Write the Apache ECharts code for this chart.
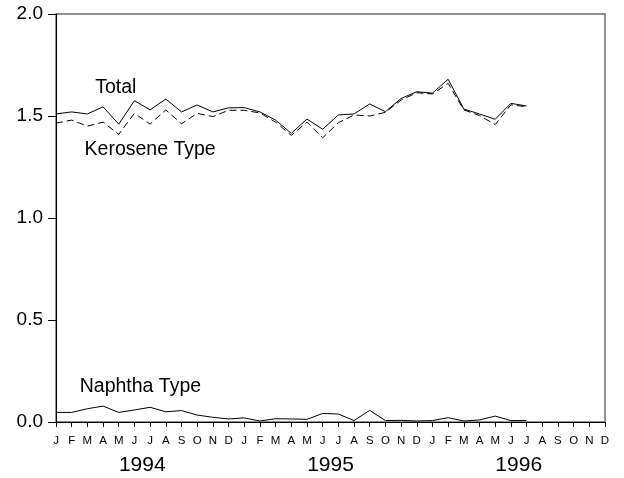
<!DOCTYPE html>
<html><head><meta charset="utf-8">
<script src="https://cdn.jsdelivr.net/npm/echarts@6/dist/echarts.min.js"></script>
<style>html,body{margin:0;padding:0;background:#fff}#c{width:624px;height:478px}</style>
</head><body><div id="c"></div>
<script>
const monthLetters = ['J','F','M','A','M','J','J','A','S','O','N','D'];
const years = ['1994','1995','1996'];
const categories = [];
years.forEach(y => monthLetters.forEach((m, i) => categories.push(y + '-' + (i + 1))));
const yTicks = [0, 0.5, 1.0, 1.5, 2.0];

const total = [1.51,1.52,1.51,1.545,1.46,1.575,1.53,1.583,1.52,1.554,1.52,1.54,
               1.541,1.52,1.48,1.415,1.485,1.435,1.505,1.51,1.559,1.521,1.586,1.619,
               1.612,1.68,1.534,1.51,1.484,1.562,1.549];
const kerosene = [1.465,1.48,1.45,1.47,1.41,1.513,1.46,1.53,1.462,1.513,1.497,1.528,
                  1.528,1.515,1.47,1.405,1.47,1.393,1.467,1.505,1.5,1.518,1.578,1.614,
                  1.608,1.66,1.53,1.502,1.458,1.555,1.545];
const naphtha = [0.047,0.047,0.065,0.078,0.047,0.059,0.072,0.05,0.056,0.034,0.023,0.015,
                 0.02,0.005,0.016,0.015,0.013,0.042,0.039,0.007,0.057,0.007,0.008,0.005,
                 0.007,0.021,0.005,0.01,0.029,0.007,0.007];

const FONT = 'Liberation Sans, Arial, sans-serif';
function labelPoint(text, idx, val, dx) {
  return {
    symbol: 'circle', symbolSize: 0, silent: true,
    data: [{ coord: [idx, val], label: { show: true, position: 'inside', formatter: text,
      fontSize: 19.5, color: '#000', fontFamily: FONT, offset: [dx, 0] } }]
  };
}

const chart = echarts.init(document.getElementById('c'), null, { renderer: 'canvas' });
chart.setOption({
  animation: false,
  backgroundColor: '#fff',
  grid: { left: 56, right: 19, top: 14, bottom: 56, show: true, borderColor: '#6e6e6e', borderWidth: 1.5, backgroundColor: 'transparent' },
  xAxis: [{
    type: 'category', data: categories, boundaryGap: false,
    axisLine: { lineStyle: { color: '#000', width: 1 } },
    axisTick: { show: true, inside: false, length: 5, interval: 0, lineStyle: { color: '#000' } },
    axisLabel: { interval: 0, margin: 13, fontSize: 11.5, color: '#000', fontFamily: FONT,
      formatter: v => monthLetters[parseInt(v.split('-')[1], 10) - 1] },
    splitLine: { show: false }
  }, {
    type: 'value', min: 0, max: 35, position: 'bottom',
    axisLine: { show: false }, axisTick: { show: false }, splitLine: { show: false },
    axisLabel: { customValues: [5.5, 17.5, 29.5], margin: 33, fontSize: 21, color: '#000', fontFamily: FONT,
      formatter: v => years[Math.round((v - 5.5) / 12)] }
  }],
  yAxis: {
    type: 'value', min: yTicks[0], max: yTicks[yTicks.length - 1], interval: 0.5,
    axisLine: { show: true, lineStyle: { color: '#000', width: 1 } },
    axisTick: { show: true, length: 8, lineStyle: { color: '#000' } },
    axisLabel: { margin: 13, fontSize: 19, color: '#000', fontFamily: FONT, formatter: v => v.toFixed(1) },
    splitLine: { show: false }
  },
  series: [
    { name: 'Total', type: 'line', data: total, showSymbol: false, symbol: 'none',
      lineStyle: { color: '#000', width: 1 }, markPoint: labelPoint('Total', 4, 1.637, -3) },
    { name: 'Kerosene Type', type: 'line', data: kerosene, showSymbol: false, symbol: 'none',
      lineStyle: { color: '#000', width: 1, type: [7, 4] }, markPoint: labelPoint('Kerosene Type', 6, 1.333, 0) },
    { name: 'Naphtha Type', type: 'line', data: naphtha, showSymbol: false, symbol: 'none',
      lineStyle: { color: '#000', width: 1 }, markPoint: labelPoint('Naphtha Type', 5, 0.172, 6) }
  ]
});
</script></body></html>
